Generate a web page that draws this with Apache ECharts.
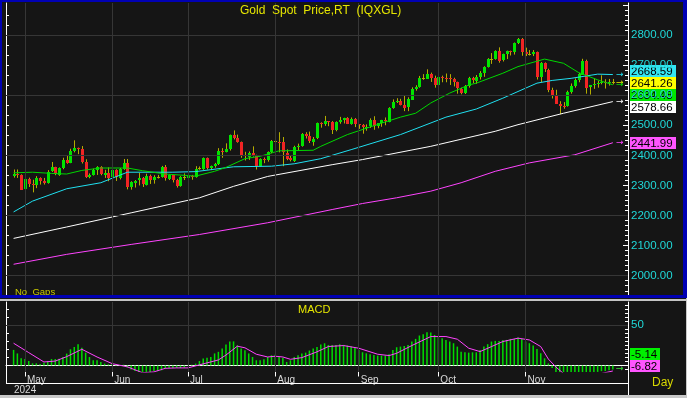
<!DOCTYPE html>
<html>
<head>
<meta charset="utf-8">
<script src="https://cdn.jsdelivr.net/npm/echarts@6/dist/echarts.min.js"></script>
<style>
html, body { margin: 0; padding: 0; background: #151515; }
#chart { width: 687px; height: 398px; }
</style>
</head>
<body>
<div id="chart"></div>
<script>
// 日线 K 线: [日期, 开, 高, 低, 收]
const candles = [
  ['2024-04-26', 2332, 2353, 2326, 2337], ['2024-04-29', 2337, 2353, 2325, 2335], ['2024-04-30', 2335, 2337, 2285, 2286],
  ['2024-05-01', 2286, 2326, 2285, 2320], ['2024-05-02', 2320, 2326, 2295, 2304], ['2024-05-03', 2304, 2319, 2277, 2301],
  ['2024-05-06', 2301, 2331, 2291, 2324], ['2024-05-07', 2324, 2327, 2303, 2314], ['2024-05-08', 2314, 2325, 2303, 2309],
  ['2024-05-09', 2309, 2351, 2306, 2346], ['2024-05-10', 2346, 2378, 2345, 2360], ['2024-05-13', 2360, 2362, 2334, 2336],
  ['2024-05-14', 2336, 2360, 2332, 2358], ['2024-05-15', 2358, 2392, 2354, 2385], ['2024-05-16', 2385, 2400, 2372, 2376],
  ['2024-05-17', 2376, 2422, 2374, 2415], ['2024-05-20', 2415, 2450, 2410, 2425], ['2024-05-21', 2425, 2426, 2404, 2421],
  ['2024-05-22', 2421, 2431, 2373, 2379], ['2024-05-23', 2379, 2387, 2325, 2328], ['2024-05-24', 2328, 2340, 2324, 2334],
  ['2024-05-27', 2334, 2356, 2333, 2351], ['2024-05-28', 2351, 2364, 2335, 2361], ['2024-05-29', 2361, 2364, 2334, 2338],
  ['2024-05-30', 2338, 2352, 2325, 2343], ['2024-05-31', 2343, 2360, 2314, 2327],
  ['2024-06-03', 2327, 2354, 2321, 2350], ['2024-06-04', 2350, 2354, 2315, 2326], ['2024-06-05', 2326, 2358, 2320, 2355],
  ['2024-06-06', 2355, 2388, 2352, 2375], ['2024-06-07', 2375, 2388, 2287, 2294], ['2024-06-10', 2294, 2314, 2286, 2311],
  ['2024-06-11', 2311, 2318, 2293, 2316], ['2024-06-12', 2316, 2342, 2300, 2324], ['2024-06-13', 2324, 2328, 2295, 2303],
  ['2024-06-14', 2303, 2339, 2300, 2333], ['2024-06-17', 2333, 2336, 2305, 2319], ['2024-06-18', 2319, 2334, 2306, 2329],
  ['2024-06-19', 2329, 2335, 2323, 2328], ['2024-06-20', 2328, 2365, 2326, 2360], ['2024-06-21', 2360, 2368, 2316, 2322],
  ['2024-06-24', 2322, 2337, 2318, 2334], ['2024-06-25', 2334, 2335, 2310, 2319], ['2024-06-26', 2319, 2322, 2293, 2298],
  ['2024-06-27', 2298, 2331, 2296, 2327], ['2024-06-28', 2327, 2340, 2318, 2326],
  ['2024-07-01', 2326, 2337, 2318, 2332], ['2024-07-02', 2332, 2335, 2319, 2330], ['2024-07-03', 2330, 2364, 2326, 2356],
  ['2024-07-04', 2356, 2363, 2352, 2357], ['2024-07-05', 2357, 2393, 2352, 2392], ['2024-07-08', 2392, 2393, 2353, 2359],
  ['2024-07-09', 2359, 2366, 2351, 2364], ['2024-07-10', 2364, 2375, 2359, 2371], ['2024-07-11', 2371, 2424, 2368, 2415],
  ['2024-07-12', 2415, 2424, 2392, 2411], ['2024-07-15', 2411, 2440, 2410, 2422], ['2024-07-16', 2422, 2469, 2416, 2469],
  ['2024-07-17', 2469, 2483, 2453, 2459], ['2024-07-18', 2459, 2469, 2442, 2445], ['2024-07-19', 2445, 2446, 2392, 2400],
  ['2024-07-22', 2400, 2412, 2383, 2396], ['2024-07-23', 2396, 2413, 2385, 2409], ['2024-07-24', 2409, 2430, 2396, 2398],
  ['2024-07-25', 2398, 2402, 2353, 2364], ['2024-07-26', 2364, 2390, 2364, 2387], ['2024-07-29', 2387, 2393, 2374, 2384],
  ['2024-07-30', 2384, 2413, 2379, 2410], ['2024-07-31', 2410, 2451, 2407, 2447],
  ['2024-08-01', 2447, 2477, 2430, 2446], ['2024-08-02', 2446, 2477, 2410, 2443], ['2024-08-05', 2443, 2461, 2364, 2409],
  ['2024-08-06', 2409, 2420, 2384, 2390], ['2024-08-07', 2390, 2401, 2380, 2382], ['2024-08-08', 2382, 2432, 2378, 2427],
  ['2024-08-09', 2427, 2439, 2417, 2431], ['2024-08-12', 2431, 2474, 2429, 2472], ['2024-08-13', 2472, 2477, 2456, 2465],
  ['2024-08-14', 2465, 2479, 2441, 2447], ['2024-08-15', 2447, 2461, 2432, 2456], ['2024-08-16', 2456, 2509, 2454, 2507],
  ['2024-08-19', 2507, 2510, 2492, 2503], ['2024-08-20', 2503, 2531, 2498, 2514], ['2024-08-21', 2514, 2514, 2497, 2512],
  ['2024-08-22', 2512, 2514, 2471, 2484], ['2024-08-23', 2484, 2513, 2480, 2512], ['2024-08-26', 2512, 2528, 2505, 2518],
  ['2024-08-27', 2518, 2525, 2506, 2524], ['2024-08-28', 2524, 2527, 2504, 2505], ['2024-08-29', 2505, 2526, 2502, 2521],
  ['2024-08-30', 2521, 2524, 2494, 2503],
  ['2024-09-02', 2503, 2504, 2488, 2500], ['2024-09-03', 2500, 2504, 2472, 2493], ['2024-09-04', 2493, 2503, 2482, 2495],
  ['2024-09-05', 2495, 2523, 2491, 2516], ['2024-09-06', 2516, 2530, 2485, 2497], ['2024-09-09', 2497, 2507, 2490, 2506],
  ['2024-09-10', 2506, 2518, 2495, 2516], ['2024-09-11', 2516, 2526, 2500, 2512], ['2024-09-12', 2512, 2560, 2510, 2558],
  ['2024-09-13', 2558, 2586, 2555, 2578], ['2024-09-16', 2578, 2590, 2574, 2582], ['2024-09-17', 2582, 2588, 2566, 2569],
  ['2024-09-18', 2569, 2600, 2547, 2559], ['2024-09-19', 2559, 2593, 2547, 2587], ['2024-09-20', 2587, 2626, 2585, 2622],
  ['2024-09-23', 2622, 2633, 2615, 2628], ['2024-09-24', 2628, 2664, 2625, 2657], ['2024-09-25', 2657, 2670, 2651, 2657],
  ['2024-09-26', 2657, 2686, 2654, 2672], ['2024-09-27', 2672, 2675, 2644, 2658], ['2024-09-30', 2658, 2665, 2625, 2634],
  ['2024-10-01', 2634, 2673, 2624, 2662], ['2024-10-02', 2662, 2665, 2643, 2658], ['2024-10-03', 2658, 2672, 2643, 2656],
  ['2024-10-04', 2656, 2670, 2634, 2653], ['2024-10-07', 2653, 2658, 2629, 2643], ['2024-10-08', 2643, 2645, 2605, 2622],
  ['2024-10-09', 2622, 2625, 2603, 2608], ['2024-10-10', 2608, 2634, 2604, 2630], ['2024-10-11', 2630, 2661, 2625, 2657],
  ['2024-10-14', 2657, 2661, 2640, 2649], ['2024-10-15', 2649, 2667, 2638, 2662], ['2024-10-16', 2662, 2680, 2652, 2674],
  ['2024-10-17', 2674, 2696, 2661, 2693], ['2024-10-18', 2693, 2723, 2692, 2721], ['2024-10-21', 2721, 2740, 2704, 2720],
  ['2024-10-22', 2720, 2749, 2718, 2748], ['2024-10-23', 2748, 2759, 2708, 2716], ['2024-10-24', 2716, 2738, 2712, 2736],
  ['2024-10-25', 2736, 2748, 2720, 2747], ['2024-10-28', 2747, 2748, 2732, 2743], ['2024-10-29', 2743, 2775, 2735, 2774],
  ['2024-10-30', 2774, 2790, 2770, 2788], ['2024-10-31', 2788, 2790, 2731, 2744],
  ['2024-11-01', 2744, 2758, 2730, 2736], ['2024-11-04', 2736, 2750, 2732, 2736], ['2024-11-05', 2736, 2750, 2730, 2742],
  ['2024-11-06', 2742, 2745, 2652, 2659], ['2024-11-07', 2659, 2710, 2643, 2706], ['2024-11-08', 2706, 2709, 2677, 2685],
  ['2024-11-11', 2685, 2688, 2610, 2618], ['2024-11-12', 2618, 2625, 2589, 2598], ['2024-11-13', 2598, 2618, 2572, 2572],
  ['2024-11-14', 2572, 2580, 2537, 2565], ['2024-11-15', 2565, 2577, 2555, 2563], ['2024-11-18', 2563, 2615, 2562, 2611],
  ['2024-11-19', 2611, 2639, 2605, 2631], ['2024-11-20', 2631, 2656, 2625, 2650], ['2024-11-21', 2650, 2674, 2643, 2670],
  ['2024-11-22', 2670, 2721, 2667, 2715], ['2024-11-25', 2715, 2718, 2605, 2625], ['2024-11-26', 2625, 2634, 2602, 2633],
  ['2024-11-27', 2633, 2656, 2621, 2636], ['2024-11-28', 2636, 2648, 2625, 2639], ['2024-11-29', 2639, 2666, 2636, 2643],
  ['2024-12-02', 2643, 2653, 2622, 2639], ['2024-12-03', 2639, 2654, 2632, 2643], ['2024-12-04', 2643, 2654, 2636, 2641.26]
];

// 图表两侧的空白交易日
const padStart = ['2024-04-24', '2024-04-25'];
const padEnd = ['2024-12-05', '2024-12-06', '2024-12-09', '2024-12-10'];

// 月份刻度
const monthTicks = ['2024-05-01', '2024-06-03', '2024-07-01', '2024-08-01', '2024-09-02', '2024-10-01', '2024-11-01'];
const monthLabels = ['May', 'Jun', 'Jul', 'Aug', 'Sep', 'Oct', 'Nov'];

// 均线 (读图取样)
const ma20 = [
  ['2024-04-26', 2342], ['2024-05-03', 2344], ['2024-05-10', 2340], ['2024-05-16', 2338], ['2024-05-22', 2350],
  ['2024-05-29', 2358], ['2024-06-07', 2358], ['2024-06-13', 2349], ['2024-06-21', 2338], ['2024-07-03', 2331],
  ['2024-07-10', 2347], ['2024-07-15', 2360], ['2024-07-22', 2389], ['2024-07-26', 2397], ['2024-07-31', 2408],
  ['2024-08-02', 2415], ['2024-08-15', 2417], ['2024-08-19', 2430], ['2024-08-28', 2469], ['2024-09-10', 2507],
  ['2024-09-17', 2527], ['2024-09-23', 2540], ['2024-09-27', 2574], ['2024-10-04', 2607], ['2024-10-09', 2623],
  ['2024-10-11', 2634], ['2024-10-15', 2640], ['2024-10-24', 2673], ['2024-10-30', 2695], ['2024-11-08', 2720],
  ['2024-11-15', 2706], ['2024-11-21', 2675], ['2024-11-28', 2651], ['2024-12-04', 2634.48]
];
const ma50 = [
  ['2024-04-26', 2212], ['2024-05-03', 2248], ['2024-05-16', 2289], ['2024-05-29', 2309], ['2024-06-07', 2344],
  ['2024-06-25', 2344], ['2024-07-03', 2346], ['2024-07-17', 2362], ['2024-07-31', 2364], ['2024-08-08', 2372],
  ['2024-08-19', 2389], ['2024-08-29', 2419], ['2024-09-17', 2469], ['2024-10-03', 2527], ['2024-10-15', 2554],
  ['2024-10-24', 2590], ['2024-11-06', 2640], ['2024-11-12', 2649], ['2024-11-19', 2656], ['2024-11-28', 2670],
  ['2024-12-04', 2668.59]
];
const ma100 = [
  ['2024-04-26', 2124], ['2024-05-16', 2162], ['2024-06-10', 2209], ['2024-07-04', 2259], ['2024-07-17', 2297],
  ['2024-07-30', 2330], ['2024-08-22', 2369], ['2024-09-03', 2386], ['2024-09-27', 2430], ['2024-10-22', 2480],
  ['2024-10-30', 2502], ['2024-11-15', 2540], ['2024-12-04', 2578.66]
];
const ma200 = [
  ['2024-04-26', 2038], ['2024-05-16', 2071], ['2024-06-10', 2104], ['2024-07-04', 2137], ['2024-07-30', 2176],
  ['2024-08-22', 2220], ['2024-09-03', 2240], ['2024-09-16', 2259], ['2024-09-27', 2281], ['2024-10-09', 2309],
  ['2024-10-22', 2347], ['2024-11-04', 2375], ['2024-11-20', 2402], ['2024-12-04', 2441.99]
];

// MACD 柱 (每日) 和信号线 (取样)
const macd = [
  19.4, 15, 9, 8, 5.6, 2.7, 2.7, 2, 3.5, 5.5, 8, 8, 8.5, 10.6, 14.8, 20.2, 23, 26.5, 22, 16,
  10.6, 6.5, 6.5, 4.4, 2.3, 1.5, 2.3, 0.5, 0.5, 1,
  -2.5, -5, -7, -9, -9, -8, -8, -7, -7, -6, -4, -3, -3, -3, -3, -2.5,
  0.3, 1, 2.3, 5.5, 8.6, 9.5, 10.6, 15, 17, 21, 26, 30, 30, 25, 21, 19, 15, 10.6, 6.5, 6.5,
  7.7, 10.6, 12.7, 13.4, 10.6, 9.5, 4.4, 6.5, 10.6, 12.7, 15, 16, 18.6, 21, 23, 26, 27.6, 25.5,
  25.6, 25.6, 26.5, 25.6, 24.8, 23.5, 22.3, 19.4, 16.5, 15.2, 14, 13.1, 12.3, 12.3, 12.3, 14,
  19.4, 22.7, 23.5, 24.4, 25.6, 29.8, 33.1, 37.3, 39, 41.5, 41, 38, 36, 33.9, 31.8, 29.8, 27.7,
  23.5, 17.2, 16.4, 16, 16.4, 16.4, 19.4, 23.5, 26.5, 29.8, 30.6, 30.6, 31.8, 31.8, 33.1, 33.1,
  34.8, 33.1, 29.8, 27.7, 24.8, 20.6, 15.2, 8.9, 2.6,
  -3, -9, -15, -19, -20, -19, -17, -14, -9, -10, -10, -9, -8, -7, -7, -6, -5.14
];
const signal = [
  ['2024-04-26', 27.7], ['2024-05-02', 16], ['2024-05-08', 4.4], ['2024-05-13', 5.5], ['2024-05-16', 11],
  ['2024-05-22', 20.2], ['2024-05-28', 10.6], ['2024-06-03', 2.3], ['2024-06-07', -1.7], ['2024-06-13', -9],
  ['2024-06-18', -8], ['2024-06-21', -3.5], ['2024-06-26', -3], ['2024-07-01', -3], ['2024-07-04', 0.8],
  ['2024-07-11', 6.9], ['2024-07-15', 13], ['2024-07-18', 24], ['2024-07-22', 22], ['2024-07-25', 14],
  ['2024-07-30', 10.6], ['2024-08-01', 11.5], ['2024-08-05', 10.6], ['2024-08-07', 7.7], ['2024-08-12', 9.8],
  ['2024-08-16', 17], ['2024-08-21', 23.6], ['2024-08-27', 24.8], ['2024-09-02', 21.5], ['2024-09-09', 14],
  ['2024-09-12', 12.3], ['2024-09-16', 15.2], ['2024-09-20', 24.8], ['2024-09-27', 36], ['2024-10-03', 36],
  ['2024-10-08', 32.7], ['2024-10-11', 21.5], ['2024-10-16', 17.3], ['2024-10-21', 23.5], ['2024-10-24', 29.8],
  ['2024-10-30', 34], ['2024-11-04', 31.8], ['2024-11-07', 23.5], ['2024-11-11', 8], ['2024-11-13', -2],
  ['2024-11-15', -10], ['2024-11-20', -16], ['2024-11-25', -15], ['2024-11-28', -11], ['2024-12-04', -6.82]
];

const categories = padStart.concat(candles.map(c => c[0]), padEnd);
const lead = padStart.length;

const colors = {
  up: '#00e400', down: '#f02424', wick: '#b4ac00',
  ma20: '#00d800', ma50: '#20e0f0', ma100: '#ffffff', ma200: '#ff44ff',
  grid: '#363636', axis: '#ffffff', label: '#20d8d8', yellow: '#e6e600'
};
const font = '"Liberation Sans", Arial, sans-serif';

function stepValues(from, to, step) {
  const out = [];
  for (let v = from; v <= to + 1e-6; v += step) out.push(+v.toFixed(3));
  return out;
}

const chart = echarts.init(document.getElementById('chart'), null, { devicePixelRatio: 1 });

const option = {
  animation: false,
  backgroundColor: '#151515',
  grid: [
    { left: 6, right: 59, top: 3, height: 292 },
    { left: 6, right: 59, top: 302, height: 70 }
  ],
  xAxis: [
    { type: 'category', gridIndex: 0, data: categories, boundaryGap: false, show: false },
    {
      type: 'category', gridIndex: 1, data: categories, boundaryGap: false,
      axisLine: { lineStyle: { color: colors.axis, width: 1 } },
      axisTick: {
        length: 11, lineStyle: { color: colors.axis },
        interval: (i, v) => monthTicks.includes(v)
      },
      axisLabel: {
        interval: (i, v) => monthTicks.includes(v),
        formatter: v => monthLabels[monthTicks.indexOf(v)] || '',
        color: '#d8d8d8', fontFamily: font, fontSize: 10, align: 'left',
        margin: 3, padding: [0, 0, 0, 2]
      },
      splitLine: { show: false }
    }
  ],
  yAxis: [
    // 主图右轴: 标签 + 小刻度
    {
      type: 'value', gridIndex: 0, position: 'right', min: 1935.9, max: 2906.4,
      axisLine: { show: true, lineStyle: { color: colors.axis } },
      axisTick: { show: true, inside: true, length: 3, customValues: stepValues(1950, 2900, 100 / 6), lineStyle: { color: colors.axis } },
      axisLabel: { customValues: stepValues(2000, 2800, 100), formatter: v => v.toFixed(2), color: colors.label, fontFamily: font, fontSize: 11.5, margin: 3 },
      splitLine: { show: false }
    },
    // 主图右轴: 大刻度
    {
      type: 'value', gridIndex: 0, position: 'right', min: 1935.9, max: 2906.4,
      axisLine: { show: false },
      axisTick: { show: true, inside: true, length: 5, customValues: stepValues(2000, 2900, 100), lineStyle: { color: colors.axis } },
      axisLabel: { show: false }, splitLine: { show: false }
    },
    // 主图左轴
    {
      type: 'value', gridIndex: 0, position: 'left', min: 1935.9, max: 2906.4,
      axisLine: { show: true, lineStyle: { color: colors.axis } },
      axisTick: { show: true, inside: true, length: 3, customValues: stepValues(1966.7, 2900, 100 / 3), lineStyle: { color: colors.axis } },
      axisLabel: { show: false }, splitLine: { show: false }
    },
    // MACD 右轴
    {
      type: 'value', gridIndex: 1, position: 'right', min: -8.1, max: 79,
      axisLine: { show: true, lineStyle: { color: colors.axis } },
      axisTick: { show: true, inside: true, length: 3, customValues: stepValues(-5, 75, 5), lineStyle: { color: colors.axis } },
      axisLabel: { customValues: [50], color: colors.label, fontFamily: font, fontSize: 11.5, margin: 3 },
      splitLine: { show: false }
    },
    // MACD 左轴
    {
      type: 'value', gridIndex: 1, position: 'left', min: -8.1, max: 79,
      axisLine: { show: true, lineStyle: { color: colors.axis } },
      axisTick: { show: true, inside: true, length: 3, customValues: stepValues(0, 70, 10), lineStyle: { color: colors.axis } },
      axisLabel: { show: false }, splitLine: { show: false }
    }
  ],
  series: [
    // 网格线
    {
      type: 'line', xAxisIndex: 0, yAxisIndex: 0, data: [], z: 1, silent: true,
      markLine: {
        silent: true, symbol: 'none', label: { show: false },
        lineStyle: { color: colors.grid, width: 1, type: 'solid' },
        data: stepValues(2000, 2800, 200).map(v => ({ yAxis: v })).concat(monthTicks.map(d => ({ xAxis: d })))
      }
    },
    {
      type: 'line', xAxisIndex: 1, yAxisIndex: 3, data: [], z: 1, silent: true,
      markLine: {
        silent: true, symbol: 'none', label: { show: false },
        lineStyle: { color: colors.grid, width: 1, type: 'solid' },
        data: [{ yAxis: 50 }].concat(monthTicks.map(d => ({ xAxis: d })))
      }
    },
    // K 线
    {
      type: 'custom', xAxisIndex: 0, yAxisIndex: 0, z: 2,
      encode: { x: 0, y: [1, 2, 3, 4] },
      data: candles.map((c, i) => [i + lead, c[1], c[2], c[3], c[4]]),
      renderItem(params, api) {
        const x = api.value(0);
        const o = api.value(1), h = api.value(2), l = api.value(3), c = api.value(4);
        const pO = api.coord([x, o]), pC = api.coord([x, c]);
        const pH = api.coord([x, h]), pL = api.coord([x, l]);
        const cx = Math.round(pO[0]);
        const top = Math.round(Math.min(pO[1], pC[1]));
        const bodyH = Math.max(1, Math.round(Math.abs(pO[1] - pC[1])));
        const fill = Math.abs(c - o) < 2 ? colors.wick : (c >= o ? colors.up : colors.down);
        return {
          type: 'group',
          children: [
            { type: 'line', shape: { x1: cx + 0.5, y1: pH[1], x2: cx + 0.5, y2: pL[1] }, style: { stroke: colors.wick, lineWidth: 1 } },
            { type: 'rect', shape: { x: cx - 1, y: top, width: 3, height: bodyH }, style: { fill: fill } }
          ]
        };
      }
    },
    { type: 'line', xAxisIndex: 0, yAxisIndex: 0, data: ma200, showSymbol: false, z: 3, lineStyle: { color: colors.ma200, width: 1 } },
    { type: 'line', xAxisIndex: 0, yAxisIndex: 0, data: ma100, showSymbol: false, z: 3, lineStyle: { color: colors.ma100, width: 1 } },
    { type: 'line', xAxisIndex: 0, yAxisIndex: 0, data: ma50, showSymbol: false, z: 3, lineStyle: { color: colors.ma50, width: 1 } },
    { type: 'line', xAxisIndex: 0, yAxisIndex: 0, data: ma20, showSymbol: false, z: 3, lineStyle: { color: colors.ma20, width: 1 } },
    // MACD
    {
      type: 'custom', xAxisIndex: 1, yAxisIndex: 3, z: 2,
      encode: { x: 0, y: 1 },
      data: macd.map((v, i) => [i + lead, v]),
      renderItem(params, api) {
        const cs = params.coordSys;
        const p0 = api.coord([api.value(0), 0]);
        const p1 = api.coord([api.value(0), api.value(1)]);
        const top = Math.max(cs.y, Math.min(p0[1], p1[1]));
        const bot = Math.min(cs.y + cs.height, Math.max(p0[1], p1[1]));
        return { type: 'rect', shape: { x: p0[0] - 0.75, y: top, width: 1.5, height: Math.max(0, bot - top) }, style: { fill: '#00dc00' } };
      }
    },
    { type: 'line', xAxisIndex: 1, yAxisIndex: 3, data: signal, showSymbol: false, z: 3, lineStyle: { color: colors.ma200, width: 1 } }
  ]
};

chart.setOption(option);

// 右侧数值标签
function tag(x, y, w, text, bg) {
  return {
    type: 'group', z: 20, children: [
      { type: 'rect', shape: { x: x, y: Math.round(y - 6), width: w, height: 12 }, style: { fill: bg } },
      { type: 'text', x: x + 1, y: Math.round(y) + 0.5, style: { text: text, fill: '#000', font: '11.5px ' + font, verticalAlign: 'middle' } }
    ]
  };
}
function arrow(y, color) {
  return { type: 'text', z: 20, x: 616, y: y, style: { text: '→', fill: color, font: '9px "DejaVu Sans"', verticalAlign: 'middle' } };
}

const lastClose = candles[candles.length - 1][4];
const mainTags = [
  { v: ma50[ma50.length - 1][1], bg: '#33e6f2', c: colors.ma50 },
  { v: lastClose, bg: '#ffff00', c: '#e6e600' },
  { v: ma20[ma20.length - 1][1], bg: '#00e600', c: colors.ma20 },
  { v: ma100[ma100.length - 1][1], bg: '#ffffff', c: '#ffffff' },
  { v: ma200[ma200.length - 1][1], bg: '#ff55ff', c: colors.ma200 }
].map(t => Object.assign(t, { y: chart.convertToPixel({ yAxisIndex: 0 }, t.v) }));
mainTags.sort((a, b) => a.y - b.y);
// 依次下推避免重叠, 成组的再整体上移
let group = [];
const groups = [];
mainTags.forEach((t, i) => {
  t.ty = t.y;
  if (i > 0 && t.ty < mainTags[i - 1].ty + 12) {
    t.ty = mainTags[i - 1].ty + 12;
    group.push(t);
  } else {
    if (group.length) groups.push(group);
    group = [t];
  }
});
groups.push(group);
groups.forEach(g => { if (g.length > 1) g.forEach(t => { t.ty -= 3.5; }); });

const macdTags = [
  { v: macd[macd.length - 1], bg: '#00f000', c: '#00dc00' },
  { v: signal[signal.length - 1][1], bg: '#ff55ff', c: colors.ma200 }
].map(t => Object.assign(t, { y: chart.convertToPixel({ yAxisIndex: 3 }, t.v) }));
macdTags.sort((a, b) => b.y - a.y);
macdTags.forEach((t, i) => {
  const limit = i === 0 ? 366 : macdTags[i - 1].ty - 12;
  t.ty = Math.min(t.y, limit);
});

const graphics = [];
mainTags.forEach(t => {
  graphics.push(arrow(t.y, t.c));
  graphics.push(tag(630, t.ty, 46, t.v.toFixed(2), t.bg));
});
macdTags.forEach(t => {
  graphics.push(arrow(Math.min(t.y, 369), t.c));
  graphics.push(tag(630, t.ty, 30, t.v.toFixed(2), t.bg));
});

// 边框与文字
const blue = '#0000b4';
graphics.push(
  { type: 'rect', z: 30, shape: { x: 0, y: 0, width: 687, height: 2 }, style: { fill: blue } },
  { type: 'rect', z: 30, shape: { x: 0, y: 0, width: 2, height: 298 }, style: { fill: blue } },
  { type: 'rect', z: 30, shape: { x: 683, y: 0, width: 4, height: 298 }, style: { fill: blue } },
  { type: 'rect', z: 30, shape: { x: 0, y: 295, width: 687, height: 3 }, style: { fill: blue } },
  { type: 'rect', z: 30, shape: { x: 0, y: 299, width: 687, height: 2 }, style: { fill: '#c4c4c4' } },
  { type: 'rect', z: 30, shape: { x: 0, y: 395, width: 687, height: 3 }, style: { fill: '#c8c8c8' } },
  { type: 'rect', z: 30, shape: { x: 686, y: 298, width: 1, height: 100 }, style: { fill: '#c8c8c8' } },
  { type: 'line', z: 25, shape: { x1: 628.5, y1: 372, x2: 628.5, y2: 395 }, style: { stroke: colors.axis, lineWidth: 1 } },
  { type: 'line', z: 25, shape: { x1: 6, y1: 383.5, x2: 628, y2: 383.5 }, style: { stroke: colors.axis, lineWidth: 1 } },
  { type: 'line', z: 25, shape: { x1: 6.5, y1: 372, x2: 6.5, y2: 384 }, style: { stroke: colors.axis, lineWidth: 1 } },
  { type: 'text', z: 25, x: 240, y: 11, style: { text: 'Gold  Spot  Price,RT  (IQXGL)', fill: colors.yellow, font: '12px ' + font, verticalAlign: 'middle' } },
  { type: 'text', z: 25, x: 298, y: 310, style: { text: 'MACD', fill: colors.yellow, font: '11px ' + font, verticalAlign: 'middle' } },
  { type: 'text', z: 25, x: 15, y: 292, style: { text: 'No  Gaps', fill: '#c8c800', font: '9.5px ' + font, verticalAlign: 'middle' } },
  { type: 'text', z: 25, x: 14, y: 390, style: { text: '2024', fill: '#d8d8d8', font: '10px ' + font, verticalAlign: 'middle' } },
  { type: 'text', z: 25, x: 652, y: 383, style: { text: 'Day', fill: '#d8d800', font: '12px ' + font, verticalAlign: 'middle' } }
);

chart.setOption({ graphic: graphics });
</script>
</body>
</html>
